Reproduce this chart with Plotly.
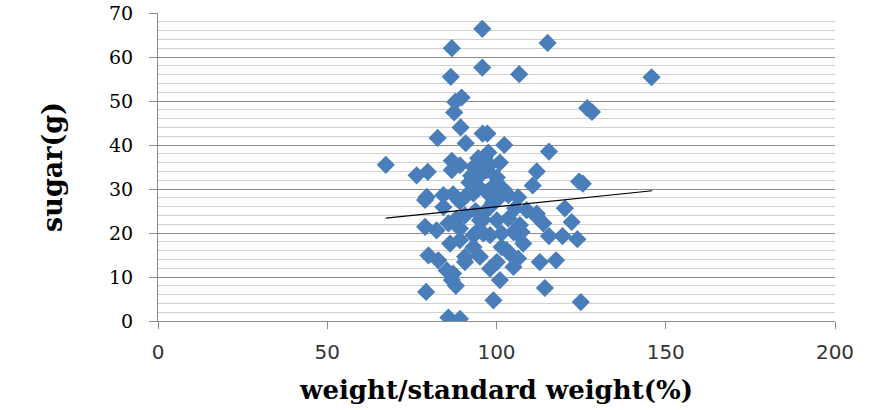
import plotly.graph_objects as go

# weight / standard weight (%)
weight_pct = [
    95.8, 86.8, 115.1, 95.8, 86.5, 106.7, 145.8, 126.8, 128.2, 89.7,
    87.8, 87.5, 89.4, 82.6, 95.9, 97.3, 90.9, 102.3, 115.5, 97.6,
    67.3, 76.4, 79.7, 86.8, 86.8, 89.2, 93.2, 96.5, 101.0, 94.6,
    111.9, 110.7, 124.4, 125.5, 100.1, 95.6, 92.5, 97.1, 79.4, 84.3,
    87.2, 93.2, 97.1, 103.5, 106.4, 78.9, 89.2, 84.3, 78.9, 82.3,
    85.8, 88.2, 90.7, 94.2, 91.2, 100.1, 105.5, 108.9, 95.1, 100.1,
    103.5, 106.9, 111.9, 115.5, 89.2, 93.2, 98.1, 101.5, 106.4, 120.2,
    122.2, 119.5, 123.9, 117.6, 114.3, 124.9, 86.3, 89.2, 90.7, 79.9,
    82.8, 85.3, 86.8, 88.0, 79.2, 85.8, 89.2, 93.2, 95.1, 90.7,
    98.1, 101.0, 99.1, 100.1, 104.0, 106.4, 107.9, 105.0, 112.8, 107.4,
    96.1, 105.0, 94.2, 101.5, 103.0, 113.8, 111.9, 87.2, 97.5, 93.8,
    99.5, 102.0, 92.0, 98.0, 96.0, 99.0,
]
# sugar (g)
sugar_g = [
    66.4, 62.0, 63.2, 57.6, 55.5, 56.1, 55.4, 48.4, 47.5, 50.8,
    49.8, 47.4, 44.0, 41.6, 42.6, 42.6, 40.4, 40.0, 38.5, 38.3,
    35.5, 33.1, 33.9, 36.4, 34.3, 35.4, 35.0, 37.2, 36.0, 37.0,
    34.0, 30.8, 31.7, 31.2, 32.6, 33.5, 33.0, 34.3, 28.2, 28.6,
    28.8, 29.0, 29.3, 28.6, 28.1, 27.5, 27.1, 25.9, 21.4, 20.6,
    22.2, 23.3, 24.0, 30.9, 28.6, 27.5, 25.6, 25.2, 22.9, 22.9,
    23.3, 21.8, 23.7, 19.3, 21.0, 19.5, 19.5, 19.9, 19.6, 25.6,
    22.5, 19.3, 18.6, 13.8, 7.5, 4.3, 17.6, 18.4, 14.6, 14.9,
    13.8, 11.5, 9.3, 8.0, 6.6, 0.8, 0.5, 16.8, 14.6, 13.4,
    11.9, 9.3, 4.7, 13.4, 15.3, 14.2, 17.6, 12.3, 13.4, 20.2,
    19.9, 20.2, 20.2, 16.8, 16.1, 22.2, 24.4, 10.8, 25.5, 25.0,
    31.0, 30.0, 31.5, 35.5, 23.0, 27.0,
]
# linear trend line end points
trend_x = [67.3, 146.0]
trend_y = [23.4, 29.6]

x_ticks = [0, 50, 100, 150, 200]
y_ticks = [0, 10, 20, 30, 40, 50, 60, 70]

fig = go.Figure()
fig.add_trace(go.Scatter(
    x=weight_pct, y=sugar_g, mode="markers",
    marker=dict(symbol="diamond", size=14, color="#4A7EBB",
                line=dict(width=0)),
    showlegend=False,
))
fig.add_trace(go.Scatter(
    x=trend_x, y=trend_y, mode="lines",
    line=dict(color="#000000", width=1.2),
    showlegend=False,
))

fig.update_layout(
    width=870, height=410,
    margin=dict(l=158, r=35, t=13, b=89, autoexpand=False),
    paper_bgcolor="white", plot_bgcolor="white",
)
fig.update_xaxes(
    range=[0, 200], tickvals=x_ticks, ticktext=[str(v) for v in x_ticks],
    showgrid=False, zeroline=False,
    showline=True, linecolor="#8C8C8C", linewidth=1,
    ticks="outside", ticklen=7, tickcolor="#8C8C8C",
    tickfont=dict(family="DejaVu Sans", size=20, color="#333333"),
    ticklabelstandoff=6,
    title=dict(text="<b>weight/standard weight(%)</b>",
               font=dict(family="DejaVu Serif", size=26, color="black"),
               standoff=17),
    automargin=False,
)
fig.update_yaxes(
    range=[0, 70], tickvals=y_ticks, ticktext=[str(v) for v in y_ticks],
    showgrid=True, gridcolor="#8C8C8C", gridwidth=1,
    minor=dict(dtick=2, showgrid=True, gridcolor="#D0D0D0", gridwidth=1, ticks=""),
    zeroline=False,
    showline=True, linecolor="#8C8C8C", linewidth=1,
    ticks="outside", ticklen=8, tickcolor="#8C8C8C",
    tickfont=dict(family="DejaVu Serif", size=19, color="black"),
    ticklabelstandoff=12,
    title=dict(text="<b>sugar(g)</b>",
               font=dict(family="DejaVu Serif", size=27, color="black"),
               standoff=38),
    automargin=False,
)

fig.write_html("out.html")
